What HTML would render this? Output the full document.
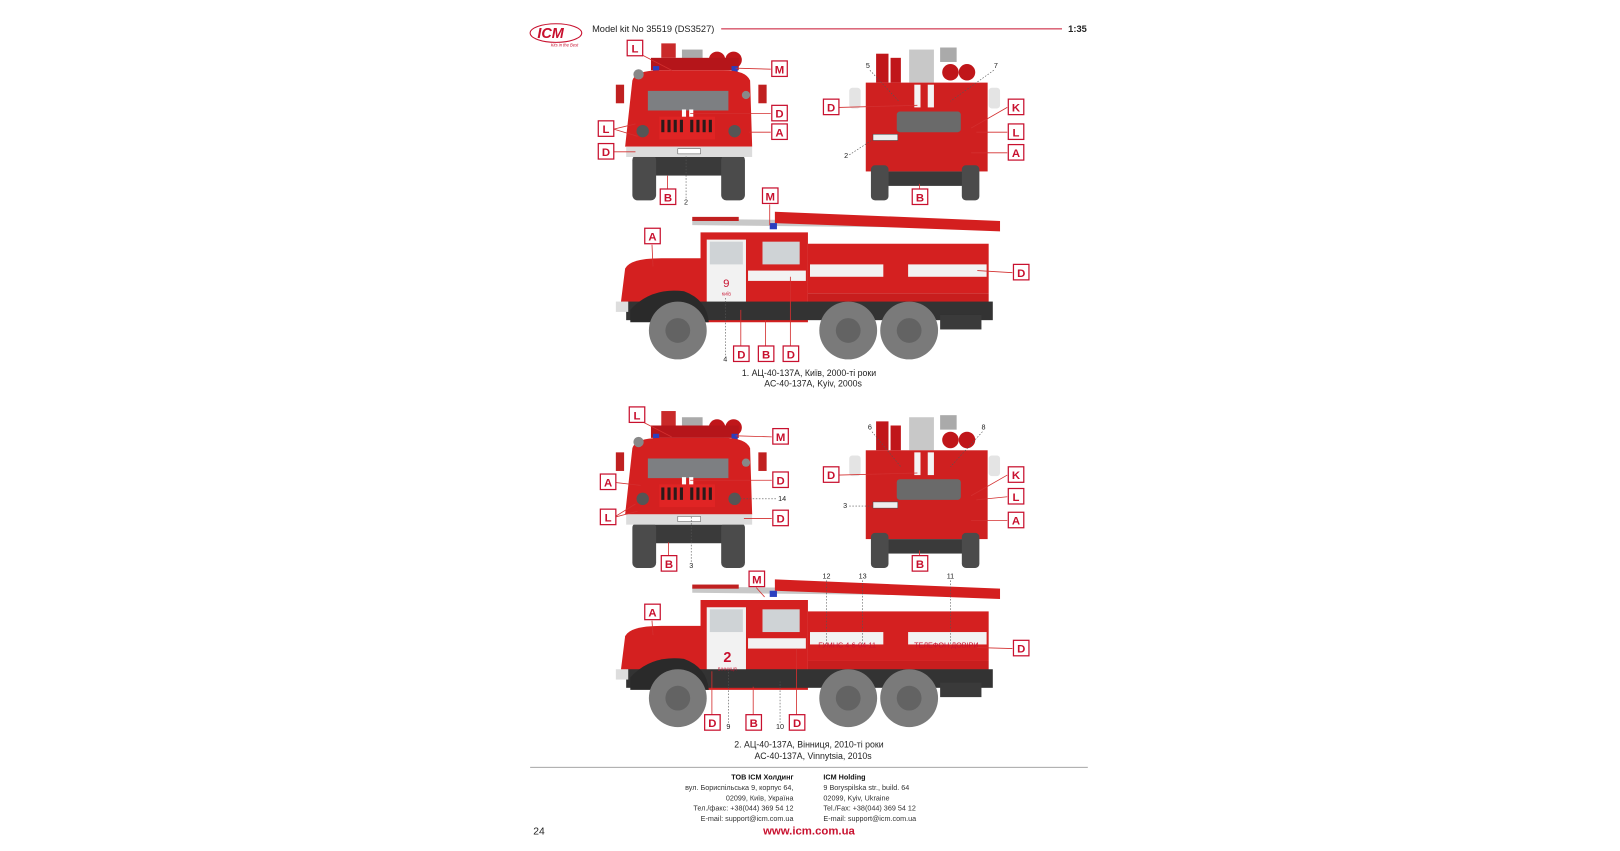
<!DOCTYPE html>
<html><head><meta charset="utf-8"><style>
html,body{margin:0;padding:0;background:#fff;}
svg{display:block;}
text{font-family:"Liberation Sans","DejaVu Sans",sans-serif;}
</style></head><body>
<svg width="1620" height="851" viewBox="0 0 1568 824" xmlns="http://www.w3.org/2000/svg">
<defs>
<g id="front">
  <rect x="640" y="42" width="14" height="14" fill="#c92a2a"/>
  <rect x="660" y="48" width="20" height="12" fill="#aaa"/>
  <circle cx="694" cy="58" r="8" fill="#c0161a"/><circle cx="710" cy="58" r="8" fill="#c0161a"/>
  <rect x="630" y="56" width="85" height="12" fill="#b5151a"/>
  <rect x="632" y="64" width="6" height="6" fill="#2b3fbf"/><rect x="708" y="64" width="6" height="6" fill="#2b3fbf"/>
  <path d="M612 78 Q615 68 640 68 L700 68 Q722 68 726 78 L728 142 L605 142 Z" fill="#d42020"/>
  <rect x="596" y="82" width="8" height="18" fill="#c02020"/><rect x="734" y="82" width="8" height="18" fill="#c02020"/>
  <circle cx="618" cy="72" r="5" fill="#888"/><circle cx="722" cy="92" r="4" fill="#888"/>
  <path d="M627 88 L705 88 L705 107 L627 107 Z" fill="#7d7f82"/>
  <rect x="660" y="106" width="4" height="12" fill="#fff"/><rect x="667" y="106" width="4" height="12" fill="#fff"/>
  <rect x="638" y="113" width="54" height="22" fill="#e02424"/>
  <g fill="#2a1a1a"><rect x="640" y="116" width="3" height="12"/><rect x="646" y="116" width="3" height="12"/><rect x="652" y="116" width="3" height="12"/><rect x="658" y="116" width="3" height="12"/><rect x="668" y="116" width="3" height="12"/><rect x="674" y="116" width="3" height="12"/><rect x="680" y="116" width="3" height="12"/><rect x="686" y="116" width="3" height="12"/></g>
  <circle cx="622" cy="127" r="6" fill="#555"/><circle cx="711" cy="127" r="6" fill="#555"/>
  <rect x="618" y="152" width="96" height="18" fill="#3a3a3a"/>
  <rect x="612" y="150" width="23" height="44" rx="5" fill="#4b4b4b"/><rect x="698" y="150" width="23" height="44" rx="5" fill="#4b4b4b"/>
  <rect x="606" y="142" width="122" height="10" fill="#dcdcdc"/>
  <rect x="656" y="144" width="22" height="5" fill="#fff" stroke="#555" stroke-width="0.5"/>
</g>
<g id="rear">
  <rect x="848" y="52" width="12" height="28" fill="#c0161a"/><rect x="862" y="56" width="10" height="24" fill="#c0161a"/>
  <rect x="880" y="48" width="24" height="32" fill="#c8c8c8"/><rect x="910" y="46" width="16" height="14" fill="#aaa"/>
  <circle cx="920" cy="70" r="8" fill="#c0161a"/><circle cx="936" cy="70" r="8" fill="#c0161a"/>
  <rect x="838" y="80" width="118" height="86" fill="#cf2020"/>
  <rect x="822" y="85" width="11" height="20" rx="3" fill="#e4e4e4"/><rect x="957" y="85" width="11" height="20" rx="3" fill="#e4e4e4"/>
  <rect x="885" y="82" width="6" height="22" fill="#f4f4f4"/><rect x="898" y="82" width="6" height="22" fill="#f4f4f4"/>
  <rect x="868" y="108" width="62" height="20" rx="3" fill="#6a6a6a"/>
  <rect x="845" y="130" width="24" height="6" fill="#eee" stroke="#444" stroke-width="0.5"/>
  <rect x="860" y="166" width="72" height="14" fill="#3a3a3a"/>
  <rect x="843" y="160" width="17" height="34" rx="4" fill="#4b4b4b"/><rect x="931" y="160" width="17" height="34" rx="4" fill="#4b4b4b"/>
</g>
<g id="side">
  <path d="M670 212 L960 215 L960 221 L670 218 Z" fill="#c8c8c8"/>
  <path d="M750 205 L968 214 L968 224 L750 216 Z" fill="#d41f1f"/>
  <rect x="670" y="210" width="45" height="4" fill="#c02020"/>
  <rect x="745" y="216" width="7" height="6" fill="#2b3fbf"/>
  <path d="M605 260 Q610 250 640 250 L680 250 L680 300 L600 300 Z" fill="#d42020"/>
  <path d="M678 225 L782 225 L782 312 L678 312 Z" fill="#d42020"/>
  <rect x="684" y="232" width="38" height="68" fill="#f2f2f2"/>
  <rect x="687" y="234" width="32" height="22" fill="#cfd3d6"/>
  <rect x="738" y="234" width="36" height="22" fill="#cfd3d6"/>
  <rect x="724" y="262" width="56" height="10" fill="#f2f2f2"/>
  <rect x="782" y="236" width="175" height="48" fill="#d42020"/>
  <rect x="784" y="256" width="71" height="12" fill="#f2f2f2"/><rect x="879" y="256" width="76" height="12" fill="#f2f2f2"/>
  <rect x="782" y="284" width="175" height="10" fill="#c81e1e"/>
  <rect x="606" y="292" width="355" height="18" fill="#333"/>
  <path d="M610 300 Q630 278 662 282 Q684 290 686 312 L610 312 Z" fill="#2a2a2a"/>
  <rect x="596" y="292" width="12" height="10" fill="#ddd"/>
  <circle cx="656" cy="320" r="28" fill="#7a7a7a"/><circle cx="656" cy="320" r="12" fill="#636363"/>
  <circle cx="821" cy="320" r="28" fill="#7a7a7a"/><circle cx="821" cy="320" r="12" fill="#636363"/>
  <circle cx="880" cy="320" r="28" fill="#7a7a7a"/><circle cx="880" cy="320" r="12" fill="#636363"/>
  <rect x="910" y="305" width="40" height="14" fill="#3a3a3a"/>
</g>
</defs>

<ellipse cx="538" cy="32" rx="25" ry="9" fill="none" stroke="#c8102e" stroke-width="1"/>
<text x="520" y="37" font-size="14" font-weight="bold" font-style="italic" fill="#c8102e">ICM</text>
<text x="533" y="45" font-size="4" fill="#c8102e" font-style="italic">Kits in the Best</text>
<text x="573" y="31" font-size="9" fill="#222">Model kit No 35519 (DS3527)</text>
<line x1="698" y1="28" x2="1028" y2="28" stroke="#c8102e" stroke-width="1"/>
<text x="1034" y="31" font-size="9" font-weight="bold" fill="#222">1:35</text>

<use href="#front"/><use href="#rear"/><use href="#side"/>
<g transform="translate(0,356)"><use href="#front"/><use href="#rear"/><use href="#side"/></g>
<text x="704" y="641" font-size="14" font-weight="bold" fill="#c8102e" text-anchor="middle">2</text>
<text x="704" y="649" font-size="4" fill="#c8102e" text-anchor="middle">ВІННИЦЯ</text>
<text x="703" y="278" font-size="11" fill="#c8102e" text-anchor="middle">9</text>
<text x="703" y="286" font-size="4" fill="#c8102e" text-anchor="middle">КИЇВ</text>
<text x="820" y="627" font-size="7" fill="#c8102e" text-anchor="middle">ГУМНС 4-6-04-11</text>
<text x="916" y="627" font-size="7" fill="#c8102e" text-anchor="middle">ТЕЛЕФОН ДОВІРИ</text>

<g stroke="#d32f2f" stroke-width="0.8" fill="none">
<path d="M621 53 L650 68 M746 67 L712 66 M746 110 L668 110 M746 128 L725 128 M594 125 L615 120 M594 125 L617 132 M594 147 L615 147 M646 183 L646 170"/>
<path d="M812 104 L888 102 M975 104 L940 124 M975 128 L945 128 M975 148 L940 148 M890 183 L890 178"/>
<path d="M745 198 L745 218 M631 237 L632 258 M980 264 L946 262 M717 335 L717 300 M741 335 L741 310 M765 335 L765 268"/>
<path d="M621 408 L650 423 M747 423 L712 422 M747 465 L668 465 M594 467 L620 470 M594 501 L615 488 M594 501 L617 495 M747 502 L720 502 M647 538 L647 525"/>
<path d="M812 460 L888 458 M975 460 L940 480 M975 481 L945 484 M975 504 L940 504 M890 538 L890 533"/>
<path d="M732 569 L740 578 M631 601 L632 615 M980 628 L946 627 M689 692 L689 650 M729 692 L729 665 M771 692 L771 628"/>
</g>
<g stroke="#555" stroke-width="0.6" stroke-dasharray="1.5,1.5" fill="none">
<path d="M664 192 L664 150 M842 68 L870 98 M962 68 L920 98 M822 150 L845 135 M702 344 L702 288"/>
<path d="M669 544 L669 500 M751 483 L712 483 M844 418 L872 452 M951 418 L920 452 M822 490 L845 490 M705 700 L705 648 M755 700 L755 660 M800 562 L800 625 M835 562 L835 625 M920 562 L920 625"/>
</g>
<g font-size="7" fill="#222" text-anchor="middle">
<text x="664" y="198">2</text><text x="840" y="66">5</text><text x="964" y="66">7</text><text x="819" y="153">2</text><text x="702" y="350">4</text>
<text x="669" y="550">3</text><text x="757" y="485">14</text><text x="842" y="416">6</text><text x="952" y="416">8</text><text x="818" y="492">3</text>
<text x="705" y="706">9</text><text x="755" y="706">10</text><text x="800" y="560">12</text><text x="835" y="560">13</text><text x="920" y="560">11</text>
</g>

<g font-size="11" font-weight="bold" fill="#c8102e" text-anchor="middle">
<g stroke="#c8102e" stroke-width="1.2" fill="#fff">
<rect x="607" y="39" width="15" height="15"/><rect x="747" y="59" width="15" height="15"/><rect x="747" y="102" width="15" height="15"/><rect x="747" y="120" width="15" height="15"/><rect x="579" y="117" width="15" height="15"/><rect x="579" y="139" width="15" height="15"/><rect x="639" y="183" width="15" height="15"/>
<rect x="797" y="96" width="15" height="15"/><rect x="976" y="96" width="15" height="15"/><rect x="976" y="120" width="15" height="15"/><rect x="976" y="140" width="15" height="15"/><rect x="883" y="183" width="15" height="15"/>
<rect x="738" y="182" width="15" height="15"/><rect x="624" y="221" width="15" height="15"/><rect x="981" y="256" width="15" height="15"/><rect x="710" y="335" width="15" height="15"/><rect x="734" y="335" width="15" height="15"/><rect x="758" y="335" width="15" height="15"/>
<rect x="609" y="394" width="15" height="15"/><rect x="748" y="415" width="15" height="15"/><rect x="581" y="459" width="15" height="15"/><rect x="748" y="457" width="15" height="15"/><rect x="581" y="493" width="15" height="15"/><rect x="748" y="494" width="15" height="15"/><rect x="640" y="538" width="15" height="15"/>
<rect x="797" y="452" width="15" height="15"/><rect x="976" y="452" width="15" height="15"/><rect x="976" y="473" width="15" height="15"/><rect x="976" y="496" width="15" height="15"/><rect x="883" y="538" width="15" height="15"/>
<rect x="725" y="553" width="15" height="15"/><rect x="624" y="585" width="15" height="15"/><rect x="981" y="620" width="15" height="15"/><rect x="682" y="692" width="15" height="15"/><rect x="722" y="692" width="15" height="15"/><rect x="764" y="692" width="15" height="15"/>
</g>
<text x="614.5" y="51">L</text><text x="754.5" y="71">M</text><text x="754.5" y="114">D</text><text x="754.5" y="132">A</text><text x="586.5" y="129">L</text><text x="586.5" y="151">D</text><text x="646.5" y="195">B</text>
<text x="804.5" y="108">D</text><text x="983.5" y="108">K</text><text x="983.5" y="132">L</text><text x="983.5" y="152">A</text><text x="890.5" y="195">B</text>
<text x="745.5" y="194">M</text><text x="631.5" y="233">A</text><text x="988.5" y="268">D</text><text x="717.5" y="347">D</text><text x="741.5" y="347">B</text><text x="765.5" y="347">D</text>
<text x="616.5" y="406">L</text><text x="755.5" y="427">M</text><text x="588.5" y="471">A</text><text x="755.5" y="469">D</text><text x="588.5" y="505">L</text><text x="755.5" y="506">D</text><text x="647.5" y="550">B</text>
<text x="804.5" y="464">D</text><text x="983.5" y="464">K</text><text x="983.5" y="485">L</text><text x="983.5" y="508">A</text><text x="890.5" y="550">B</text>
<text x="732.5" y="565">M</text><text x="631.5" y="597">A</text><text x="988.5" y="632">D</text><text x="689.5" y="704">D</text><text x="729.5" y="704">B</text><text x="771.5" y="704">D</text>
</g>

<g font-size="8.5" fill="#222" text-anchor="middle">
<text x="783" y="364">1. АЦ-40-137А, Київ, 2000-ті роки</text>
<text x="787" y="374">АС-40-137А, Kyiv, 2000s</text>
<text x="783" y="724">2. АЦ-40-137А, Вінниця, 2010-ті роки</text>
<text x="787" y="735">АС-40-137А, Vinnytsia, 2010s</text>
</g>
<line x1="513" y1="743" x2="1053" y2="743" stroke="#999" stroke-width="0.8"/>
<g font-size="7" fill="#333">
<text x="768" y="755" text-anchor="end" font-weight="bold" fill="#111">ТОВ ICM Холдинг</text>
<text x="768" y="765" text-anchor="end">вул. Бориспільська 9, корпус 64,</text>
<text x="768" y="775" text-anchor="end">02099, Київ, Україна</text>
<text x="768" y="785" text-anchor="end">Тел./факс: +38(044) 369 54 12</text>
<text x="768" y="795" text-anchor="end">E-mail: support@icm.com.ua</text>
<text x="797" y="755" font-weight="bold" fill="#111">ICM Holding</text>
<text x="797" y="765">9 Boryspilska str., build. 64</text>
<text x="797" y="775">02099, Kyiv, Ukraine</text>
<text x="797" y="785">Tel./Fax: +38(044) 369 54 12</text>
<text x="797" y="795">E-mail: support@icm.com.ua</text>
</g>
<text x="516" y="808" font-size="10" fill="#222">24</text>
<text x="783" y="808" font-size="11" font-weight="bold" fill="#c8102e" text-anchor="middle">www.icm.com.ua</text>
</svg>
</body></html>
